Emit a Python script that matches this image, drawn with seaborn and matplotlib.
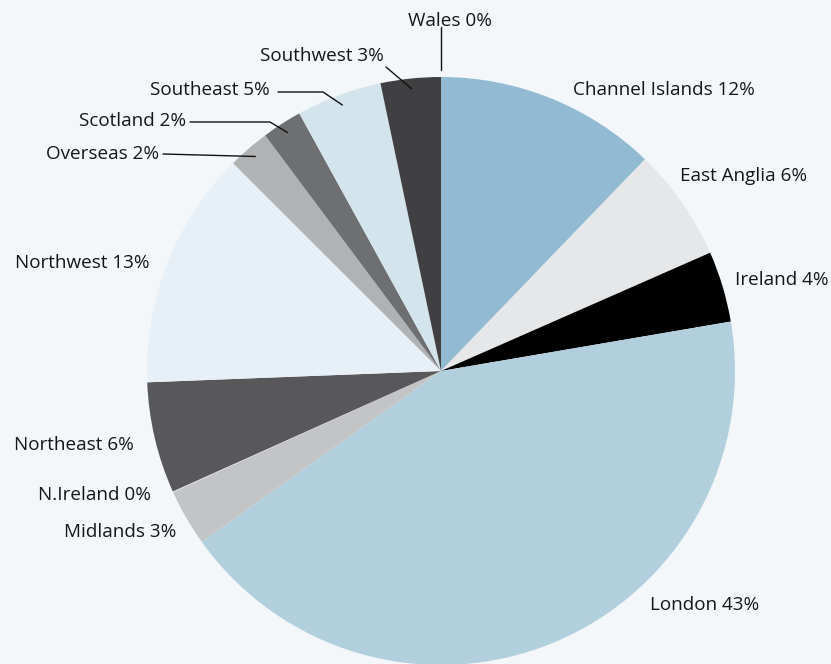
import numpy as np
import matplotlib
matplotlib.use("Agg")
import matplotlib.pyplot as plt
import seaborn as sns

# Shares by region, clockwise from 12 o'clock
regions = ["Channel Islands", "East Anglia", "Ireland", "London", "Midlands",
           "N.Ireland", "Northeast", "Northwest", "Overseas", "Scotland",
           "Southeast", "Southwest", "Wales"]
shares = [12.2, 6.2, 3.9, 42.8, 3.1, 0.05, 6.1, 13.1, 2.3, 2.2, 4.7, 3.3, 0.0]
shown_pct = [12, 6, 4, 43, 3, 0, 6, 13, 2, 2, 5, 3, 0]

colors = ["#92bad2", "#e6e7e8", "#000000", "#b2cfdd", "#c3c4c6",
          "#d9dadb", "#58585b", "#e8f0f7", "#b1b2b4", "#6e6f71",
          "#d3e4ec", "#404043", "#ffffff"]

BG = "#f3f7fa"
W, H = 831, 664
CX, CY, R = 441, 371, 294

sns.set_style("white", {"axes.facecolor": BG, "figure.facecolor": BG})
plt.rcParams["font.family"] = ["Open Sans", "DejaVu Sans"]


def flip(py):
    return H - py


fig = plt.figure(figsize=(W / 100, H / 100), dpi=100)
ax = fig.add_axes([0, 0, 1, 1])
ax.pie(shares, colors=colors, startangle=90, counterclock=False,
       center=(CX, flip(CY)), radius=R, wedgeprops={"linewidth": 0})
ax.set_xlim(0, W)
ax.set_ylim(0, H)
ax.set_aspect("equal")
ax.axis("off")

# label anchor (left x, centre y) in pixels
label_pos = {
    "Channel Islands": (573, 90), "East Anglia": (680, 176), "Ireland": (735, 280),
    "London": (650, 605), "Midlands": (64, 532), "N.Ireland": (38, 495),
    "Northeast": (14, 445), "Northwest": (15, 263), "Overseas": (46, 154),
    "Scotland": (79, 121), "Southeast": (150, 90), "Southwest": (260, 56),
    "Wales": (408, 21),
}
for name, pct in zip(regions, shown_pct):
    x, y = label_pos[name]
    ax.text(x, flip(y), f"{name} {pct}%", fontsize=13.6, color="#161616",
            ha="left", va="center")

# leader lines: elbow point in pixels, tip on the wedge mid-angle
cum = np.cumsum(shares) / np.sum(shares)
mids = dict(zip(regions, (cum - np.array(shares) / np.sum(shares) / 2) * 360))
leaders = {
    "Southwest": [(386, 67)],
    "Southeast": [(278, 92), (323, 92)],
    "Scotland": [(190, 122), (270, 122)],
    "Overseas": [(163, 154)],
}
for name, pts in leaders.items():
    a = np.deg2rad(mids[name])
    tip = (CX + 0.965 * R * np.sin(a), CY - 0.965 * R * np.cos(a))
    xs = [p[0] for p in pts] + [tip[0]]
    ys = [flip(p[1]) for p in pts] + [flip(tip[1])]
    ax.plot(xs, ys, color="#111111", lw=1)
ax.plot([CX, CX], [flip(27), flip(70)], color="#111111", lw=1)

fig.savefig("out.png", dpi=100, facecolor=BG)
